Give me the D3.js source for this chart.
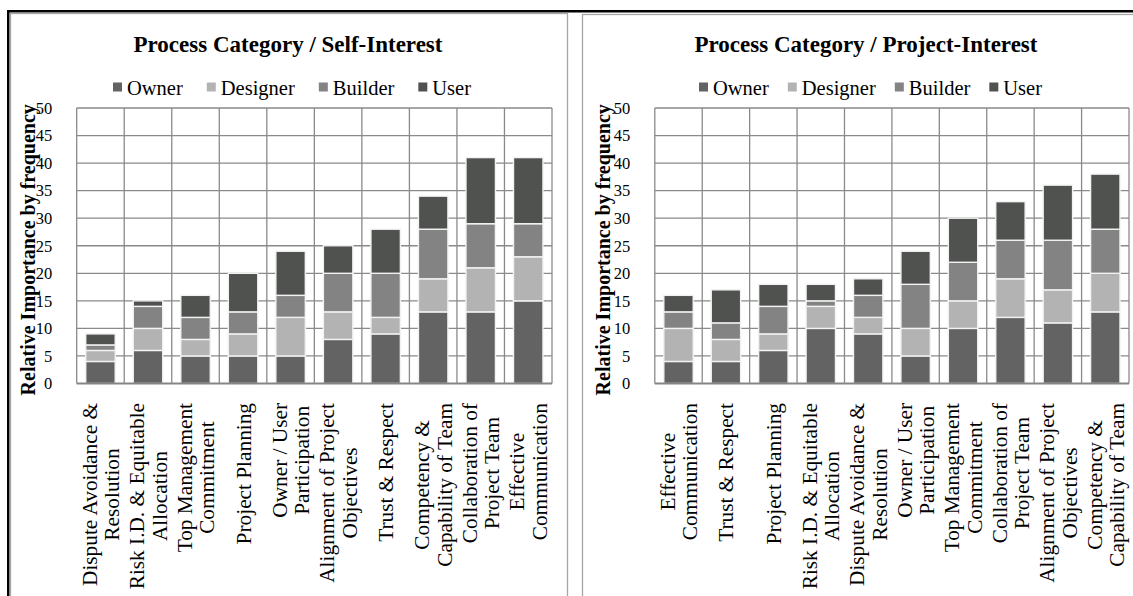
<!DOCTYPE html>
<html>
<head>
<meta charset="utf-8">
<script src="https://cdn.jsdelivr.net/npm/d3@7"></script>
<style>
  html, body { margin: 0; padding: 0; background: #ffffff; }
  svg { display: block; }
  text { font-family: "Liberation Serif", "Times New Roman", serif; fill: #000; }
</style>
</head>
<body>
<svg id="chart" width="1133" height="596"></svg>
<script>
// ---- Series definitions ----
const seriesNames = ["Owner", "Designer", "Builder", "User"];
const seriesColors = ["#636363", "#b3b3b3", "#838383", "#505250"];
const yTicks = [0, 5, 10, 15, 20, 25, 30, 35, 40, 45, 50];

// ---- Self-Interest panel ----
const selfCategories = [
  ["Dispute Avoidance &", "Resolution"],
  ["Risk I.D. & Equitable", "Allocation"],
  ["Top Management", "Commitment"],
  ["Project Planning"],
  ["Owner / User", "Participation"],
  ["Alignment of Project", "Objectives"],
  ["Trust & Respect"],
  ["Competency &", "Capability of Team"],
  ["Collaboration of", "Project Team"],
  ["Effective", "Communication"]
];
const selfOwner    = [4, 6, 5, 5, 5, 8, 9, 13, 13, 15];
const selfDesigner = [2, 4, 3, 4, 7, 5, 3, 6, 8, 8];
const selfBuilder  = [1, 4, 4, 4, 4, 7, 8, 9, 8, 6];
const selfUser     = [2, 1, 4, 7, 8, 5, 8, 6, 12, 12];

// ---- Project-Interest panel ----
const projCategories = [
  ["Effective", "Communication"],
  ["Trust & Respect"],
  ["Project Planning"],
  ["Risk I.D. & Equitable", "Allocation"],
  ["Dispute Avoidance &", "Resolution"],
  ["Owner / User", "Participation"],
  ["Top Management", "Commitment"],
  ["Collaboration of", "Project Team"],
  ["Alignment of Project", "Objectives"],
  ["Competency &", "Capability of Team"]
];
const projOwner    = [4, 4, 6, 10, 9, 5, 10, 12, 11, 13];
const projDesigner = [6, 4, 3, 4, 3, 5, 5, 7, 6, 7];
const projBuilder  = [3, 3, 5, 1, 4, 8, 7, 7, 9, 8];
const projUser     = [3, 6, 4, 3, 3, 6, 8, 7, 10, 10];

const svg = d3.select("#chart");

// Outer frame (heavy black line along top and left) and the two panel borders
svg.append("path")
  .attr("d", "M8.25,600 L8.25,11.25 L1140,11.25")
  .attr("fill", "none").attr("stroke", "#000").attr("stroke-width", 2.5);
svg.append("rect")
  .attr("x", 10.5).attr("y", 13.5).attr("width", 557).attr("height", 620)
  .attr("fill", "none").attr("stroke", "#a6a6a6").attr("stroke-width", 1.3);
svg.append("rect")
  .attr("x", 582.5).attr("y", 14.5).attr("width", 600).attr("height", 620)
  .attr("fill", "none").attr("stroke", "#a6a6a6").attr("stroke-width", 1.3);

function drawPanel(opts) {
  const { title, categories, values, plotX0, plotX1, titleX, yTitleX, legendX, legendGap } = opts;
  const plotY0 = 108, plotY1 = 383.5;
  const g = svg.append("g");
  const n = categories.length;
  const idx = d3.range(n);

  const x = d3.scaleBand().domain(idx).range([plotX0, plotX1])
    .paddingInner(0.38).paddingOuter(0.19);
  const y = d3.scaleLinear().domain([0, 50]).range([plotY1, plotY0]);

  // stacked data
  const rows = idx.map(i => {
    const r = { i };
    seriesNames.forEach((s, k) => { r[s] = values[k][i]; });
    return r;
  });
  const stacked = d3.stack().keys(seriesNames)(rows);

  // horizontal gridlines
  g.append("g").selectAll("line").data(yTicks.filter(t => t > 0)).join("line")
    .attr("x1", plotX0).attr("x2", plotX1)
    .attr("y1", d => y(d)).attr("y2", d => y(d))
    .attr("stroke", "#8a8a8a").attr("stroke-width", 1.3);

  // vertical gridlines at category boundaries
  const step = x.step();
  g.append("g").selectAll("line").data(d3.range(n + 1)).join("line")
    .attr("x1", d => plotX0 + d * step).attr("x2", d => plotX0 + d * step)
    .attr("y1", plotY0).attr("y2", plotY1)
    .attr("stroke", "#8a8a8a").attr("stroke-width", 1.3);

  // bars
  g.append("g").selectAll("g").data(stacked).join("g")
    .attr("fill", (d, k) => seriesColors[k])
    .selectAll("rect").data(d => d).join("rect")
    .attr("x", (d, i) => x(i))
    .attr("width", x.bandwidth())
    .attr("y", d => y(d[1]))
    .attr("height", d => y(d[0]) - y(d[1]))
    .attr("stroke", "#f2f2f2").attr("stroke-width", 1.4);

  // category axis line
  g.append("line")
    .attr("x1", plotX0).attr("x2", plotX1)
    .attr("y1", plotY1).attr("y2", plotY1)
    .attr("stroke", "#858585").attr("stroke-width", 2.2);

  // value axis labels
  const yAxis = d3.axisLeft(y).tickValues(yTicks).tickSize(0).tickPadding(0);
  const ya = g.append("g").attr("transform", `translate(${plotX0 - 24.5},0)`).call(yAxis);
  ya.select(".domain").remove();
  ya.selectAll("text")
    .attr("font-family", "Liberation Serif, Times New Roman, serif")
    .attr("font-size", 16.5).attr("fill", "#000");

  // value axis title
  g.append("text")
    .attr("transform", `translate(${yTitleX},${(plotY0 + plotY1) / 2 + 4}) rotate(-90)`)
    .attr("text-anchor", "middle").attr("dy", "0.35em")
    .attr("font-weight", "bold").attr("font-size", 20)
    .text("Relative Importance by frequency");

  // category labels (rotated, multi-line, block anchored below the axis)
  const lh = 22.5;
  const labelTop = 403;
  idx.forEach(i => {
    const lines = categories[i];
    const cx = x(i) + x.bandwidth() / 2;
    const lg = g.append("g").attr("transform", `translate(${cx},${labelTop}) rotate(-90)`);
    const texts = lines.map((ln, j) => lg.append("text")
      .attr("text-anchor", "middle")
      .attr("font-size", 21.3)
      .attr("y", (j - (lines.length - 1) / 2) * lh)
      .attr("dy", "0.35em")
      .text(ln));
    const maxLen = d3.max(texts, t => t.node().getComputedTextLength());
    texts.forEach(t => t.attr("x", -maxLen / 2));
  });

  // chart title
  g.append("text")
    .attr("x", titleX).attr("y", 52)
    .attr("text-anchor", "middle")
    .attr("font-weight", "bold").attr("font-size", 23)
    .text(title);

  // legend
  const lgd = g.append("g");
  let cursor = 0;
  const sq = 9, gapSq = 5;
  seriesNames.forEach((s, k) => {
    lgd.append("rect")
      .attr("x", cursor).attr("y", -sq / 2 - 1).attr("width", sq).attr("height", sq)
      .attr("fill", seriesColors[k]);
    const t = lgd.append("text")
      .attr("x", cursor + sq + gapSq).attr("y", 0).attr("dy", "0.33em")
      .attr("font-size", 20.5).text(s);
    cursor += sq + gapSq + t.node().getComputedTextLength() + legendGap;
  });
  lgd.attr("transform", `translate(${legendX},88)`);
}

drawPanel({
  title: "Process Category / Self-Interest",
  categories: selfCategories,
  values: [selfOwner, selfDesigner, selfBuilder, selfUser],
  plotX0: 76.7, plotX1: 552,
  titleX: 288, yTitleX: 27.5,
  legendX: 113, legendGap: 24
});

drawPanel({
  title: "Process Category / Project-Interest",
  categories: projCategories,
  values: [projOwner, projDesigner, projBuilder, projUser],
  plotX0: 654.8, plotX1: 1129,
  titleX: 866, yTitleX: 603,
  legendX: 699, legendGap: 19
});
</script>
</body>
</html>
